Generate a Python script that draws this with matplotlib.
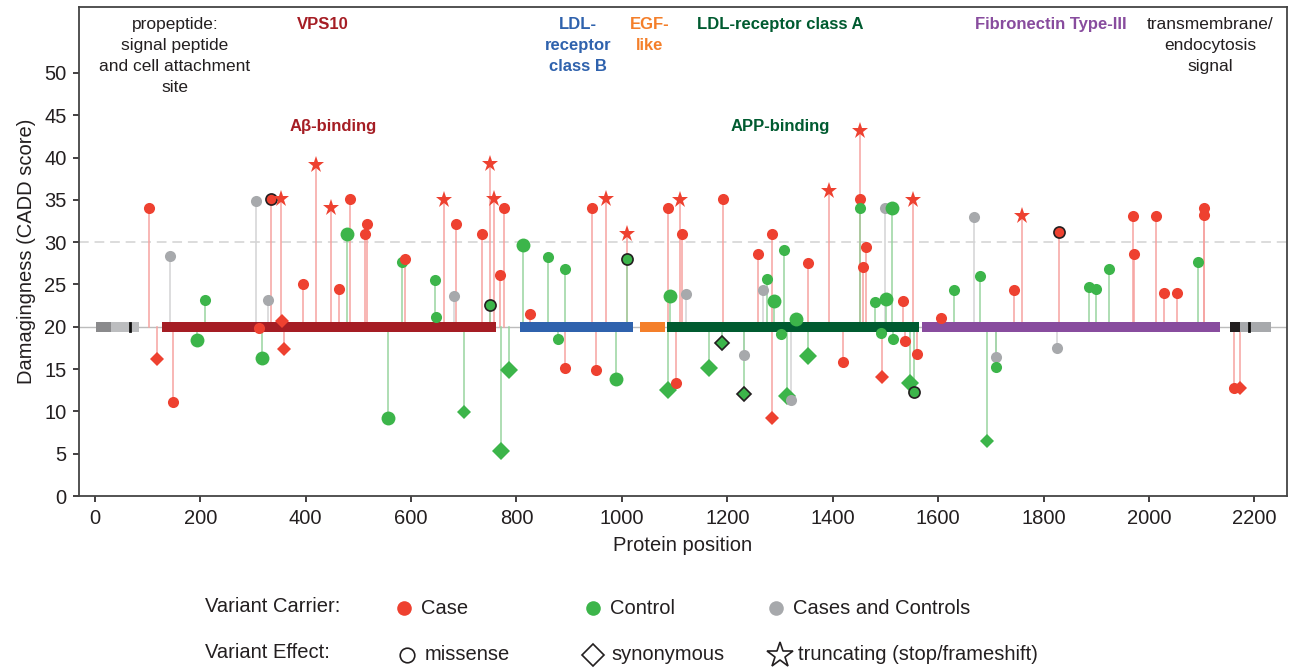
import matplotlib
matplotlib.use("Agg")
import matplotlib.pyplot as plt

# ---------------- data ----------------
positions = [103, 118, 142, 149, 194, 209, 305, 311, 318, 328, 334, 354, 355, 359, 395, 420, 448, 464,
             478, 485, 512, 516, 557, 582, 588, 645, 648, 662, 681, 685, 701, 735, 750, 750, 757, 769,
             771, 777, 785, 813, 825, 859, 878, 892, 892, 943, 950, 969, 988, 1009, 1010, 1088, 1088,
             1092, 1102, 1110, 1114, 1121, 1165, 1190, 1191, 1231, 1231, 1258, 1267, 1276, 1285, 1285,
             1288, 1301, 1308, 1314, 1321, 1331, 1354, 1354, 1393, 1419, 1452, 1451, 1451, 1458, 1464,
             1481, 1492, 1494, 1500, 1502, 1512, 1515, 1533, 1538, 1546, 1552, 1555, 1560, 1606, 1631,
             1669, 1680, 1692, 1709, 1710, 1744, 1759, 1826, 1829, 1886, 1899, 1924, 1969, 1972, 2014,
             2028, 2053, 2094, 2105, 2105, 2162, 2173]
scores = [34.1, 16.2, 28.4, 11.1, 18.4, 23.2, 34.9, 19.8, 16.3, 23.2, 35.1, 35.1, 20.7, 17.4, 25.0, 39.1,
          34.1, 24.5, 31.0, 35.1, 31.0, 32.1, 9.2, 27.7, 28.0, 25.5, 21.2, 35.0, 23.6, 32.1, 9.9, 31.0,
          39.3, 22.6, 35.1, 26.1, 5.3, 34.1, 14.9, 29.7, 21.5, 28.2, 18.6, 26.8, 15.1, 34.1, 14.9, 35.1,
          13.8, 31.0, 28.0, 34.1, 12.5, 23.6, 13.4, 35.0, 31.0, 23.9, 15.1, 18.1, 35.1, 16.7, 12.0, 28.6,
          24.4, 25.6, 31.0, 9.2, 23.1, 19.1, 29.1, 11.8, 11.4, 20.9, 27.5, 16.6, 36.1, 15.8, 43.2, 35.1,
          34.1, 27.1, 29.4, 22.9, 19.3, 14.1, 34.1, 23.3, 34.1, 18.6, 23.1, 18.3, 13.4, 35.0, 12.3, 16.8,
          21.0, 24.3, 33.0, 26.0, 6.5, 16.4, 15.2, 24.3, 33.1, 17.5, 31.2, 24.7, 24.5, 26.8, 33.1, 28.6,
          33.1, 24.0, 24.0, 27.6, 34.1, 33.2, 12.8, 12.8]
carriers = ["case", "case", "both", "case", "control", "control", "both", "case", "control", "both",
            "case", "case", "case", "case", "case", "case", "case", "case", "control", "case", "case",
            "case", "control", "control", "case", "control", "control", "case", "both", "case",
            "control", "case", "case", "control", "case", "case", "control", "case", "control",
            "control", "case", "control", "control", "control", "case", "case", "case", "case",
            "control", "case", "control", "case", "control", "control", "case", "case", "case", "both",
            "control", "control", "case", "both", "control", "case", "both", "control", "case", "case",
            "control", "control", "control", "control", "both", "control", "case", "control", "case",
            "case", "case", "case", "control", "case", "case", "control", "control", "case", "both",
            "control", "control", "control", "case", "case", "control", "case", "control", "case",
            "case", "control", "both", "control", "control", "both", "control", "case", "case", "both",
            "case", "control", "control", "control", "case", "case", "case", "case", "case", "control",
            "case", "case", "case", "case"]
effects = ["mis", "syn", "mis", "mis", "mis", "mis", "mis", "mis", "mis", "mis", "mis", "trunc", "syn",
           "syn", "mis", "trunc", "trunc", "mis", "mis", "mis", "mis", "mis", "mis", "mis", "mis", "mis",
           "mis", "trunc", "mis", "mis", "syn", "mis", "trunc", "mis", "trunc", "mis", "syn", "mis", "syn",
           "mis", "mis", "mis", "mis", "mis", "mis", "mis", "mis", "trunc", "mis", "trunc", "mis", "mis",
           "syn", "mis", "mis", "trunc", "mis", "mis", "syn", "syn", "mis", "mis", "syn", "mis", "mis",
           "mis", "mis", "syn", "mis", "mis", "mis", "syn", "mis", "mis", "mis", "syn", "trunc", "mis",
           "trunc", "mis", "mis", "mis", "mis", "mis", "mis", "syn", "mis", "mis", "mis", "mis", "mis",
           "mis", "syn", "trunc", "mis", "mis", "mis", "mis", "mis", "mis", "syn", "mis", "mis", "mis",
           "trunc", "mis", "mis", "mis", "mis", "mis", "mis", "mis", "mis", "mis", "mis", "mis", "mis",
           "mis", "mis", "syn"]
large = [0, 0, 0, 0, 1, 0, 0, 0, 1, 0, 0, 0, 0, 0, 0, 0, 0, 0, 1, 0, 0, 0, 1, 0, 0, 0, 0, 0, 0, 0, 0, 0,
         0, 0, 0, 0, 1, 0, 1, 1, 0, 0, 0, 0, 0, 0, 0, 0, 1, 0, 0, 0, 1, 1, 0, 0, 0, 0, 1, 0, 0, 0, 0, 0,
         0, 0, 0, 0, 1, 0, 0, 1, 0, 1, 0, 1, 0, 0, 0, 0, 0, 0, 0, 0, 0, 0, 0, 1, 1, 0, 0, 0, 1, 0, 0, 0,
         0, 0, 0, 0, 0, 0, 0, 0, 0, 0, 0, 0, 0, 0, 0, 0, 0, 0, 0, 0, 0, 0, 0, 0]
outlined_pos = [334, 750, 1010, 1190, 1231, 1555, 1829]
outlined_score = [35.1, 22.6, 28.0, 18.1, 12.0, 12.3, 31.2]

# protein domains
domain_names = ["propeptide_dark", "propeptide_light", "VPS10", "LDL-receptor class B", "EGF-like",
                "LDL-receptor class A", "Fibronectin Type-III", "TM_dark", "TM_light"]
domain_start = [3, 30, 127, 807, 1035, 1085, 1570, 2153, 2173]
domain_end = [30, 84, 761, 1022, 1081, 1563, 2134, 2173, 2232]
domain_colors = ["#8a8a8c", "#bcbdbf", "#a51d24", "#2f62ad", "#f47f2a", "#005b30", "#884c9e",
                 "#231f20", "#a7a9ac"]
domain_marks = [67, 2190]

baseline = 20
threshold = 30
xticks = list(range(0, 2201, 200))
yticks = list(range(0, 51, 5))

# ---------------- style ----------------
marker_col = {"case": "#ee4130", "control": "#3cb54a", "both": "#a7a9ac"}
stem_col = {"case": "#f6a3a0", "control": "#98d49f", "both": "#d3d3d5"}
shape = {"mis": "o", "syn": "D", "trunc": "*"}

W, H = 1293, 668
fig = plt.figure(figsize=(W / 100, H / 100), dpi=100)
L, R, T, B = 79, 1287, 7, 496
ax = fig.add_axes([L / W, 1 - B / H, (R - L) / W, (B - T) / H])
ax.set_xlim(-30, 2262)
ax.set_ylim(0, 57.8)

narrow = ["Liberation Sans Narrow", "Liberation Sans", "DejaVu Sans"]
sans = ["Liberation Sans", "DejaVu Sans"]

ax.axhline(threshold, color="#dcdcdc", lw=1.4, ls=(0, (5, 3)), zorder=0)
ax.axhline(baseline, color="#bcbcbc", lw=1.0, zorder=0)

# stems
for p, s, c in zip(positions, scores, carriers):
    ax.plot([p, p], [baseline, s], color=stem_col[c], lw=1.1, zorder=1)

# domains
for st, en, col in zip(domain_start, domain_end, domain_colors):
    ax.barh(baseline, en - st, left=st, height=1.15, color=col, edgecolor="none", zorder=2)
for m in domain_marks:
    ax.plot([m, m], [baseline - 0.5, baseline + 0.5], color="#111111", lw=2, zorder=3)

# markers
for p, s, c, e, lg in zip(positions, scores, carriers, effects, large):
    if e == "mis":
        ms = 10 if lg else 8
    elif e == "syn":
        ms = 9 if lg else 7.5
    else:
        ms = 12.5
    outlined = any(op == p and abs(os_ - s) < 0.05 for op, os_ in zip(outlined_pos, outlined_score))
    ax.plot(p, s, marker=shape[e], ms=ms, color=marker_col[c],
            mec="#231f20" if outlined else marker_col[c],
            mew=1.2 if outlined else 0, ls="none", zorder=4)

ax.set_xticks(xticks)
ax.set_yticks(yticks)
ax.tick_params(labelsize=14.5, length=4, width=1.2, color="#231f20", pad=5)
for lab in ax.get_xticklabels() + ax.get_yticklabels():
    lab.set_family(sans)
    lab.set_color("#231f20")
for sp in ax.spines.values():
    sp.set_color("#444444")
    sp.set_linewidth(1.3)
ax.set_xlabel("Protein position", fontsize=14.5, family=sans, color="#231f20", labelpad=6)
ax.set_ylabel("Damagingness (CADD score)", fontsize=14.5, family=sans, color="#231f20", labelpad=6)

# domain labels
top_y = 56.6
reg = 12.5
bold = 12
ls = 1.5
ax.text(152, top_y, "propeptide:\nsignal peptide\nand cell attachment\nsite", ha="center", va="top",
        fontsize=reg, family=narrow, color="#231f20", linespacing=ls)
ax.text(433, top_y, "VPS10", ha="center", va="top", fontsize=bold, family=narrow, weight="bold",
        color="#a51d24")
ax.text(917, top_y, "LDL-\nreceptor\nclass B", ha="center", va="top", fontsize=bold, family=narrow,
        weight="bold", color="#2f62ad", linespacing=ls)
ax.text(1053, top_y, "EGF-\nlike", ha="center", va="top", fontsize=bold, family=narrow, weight="bold",
        color="#f47f2a", linespacing=ls)
ax.text(1300, top_y, "LDL-receptor class A", ha="center", va="top", fontsize=bold, family=narrow,
        weight="bold", color="#005b30")
ax.text(1813, top_y, "Fibronectin Type-III", ha="center", va="top", fontsize=bold, family=narrow,
        weight="bold", color="#884c9e")
ax.text(2117, top_y, "transmembrane/\nendocytosis\nsignal", ha="center", va="top", fontsize=reg,
        family=narrow, color="#231f20", linespacing=ls)
ax.text(452, 43.7, "Aβ-binding", ha="center", va="center", fontsize=bold, family=narrow,
        weight="bold", color="#a51d24")
ax.text(1300, 43.7, "APP-binding", ha="center", va="center", fontsize=bold, family=narrow,
        weight="bold", color="#005b30")

# ---------------- custom legend (pixel overlay) ----------------
lg = fig.add_axes([0, 0, 1, 1], facecolor="none")
lg.set_xlim(0, W)
lg.set_ylim(H, 0)
lg.axis("off")
fs = 14.5
lg.text(205, 607, "Variant Carrier:", fontsize=fs, family=narrow, va="center", color="#231f20")
lg.text(205, 653, "Variant Effect:", fontsize=fs, family=narrow, va="center", color="#231f20")
carrier_labels = [("case", "Case", 404), ("control", "Control", 593), ("both", "Cases and Controls", 776)]
for key, text, x in carrier_labels:
    lg.plot(x, 608, "o", ms=10.5, color=marker_col[key], mew=0)
    lg.text(x + 17, 608, text, fontsize=fs, family=narrow, va="center", color="#231f20")
effect_labels = [("mis", "missense", 407, 10.5), ("syn", "synonymous", 593, 11), ("trunc", "truncating (stop/frameshift)", 780, 19)]
for key, text, x, ms in effect_labels:
    lg.plot(x, 655, shape[key], ms=ms, mfc="white", mec="#231f20", mew=1.2)
    lg.text(x + 18, 655, text, fontsize=fs, family=narrow, va="center", color="#231f20")

fig.savefig("out.png", dpi=100)
